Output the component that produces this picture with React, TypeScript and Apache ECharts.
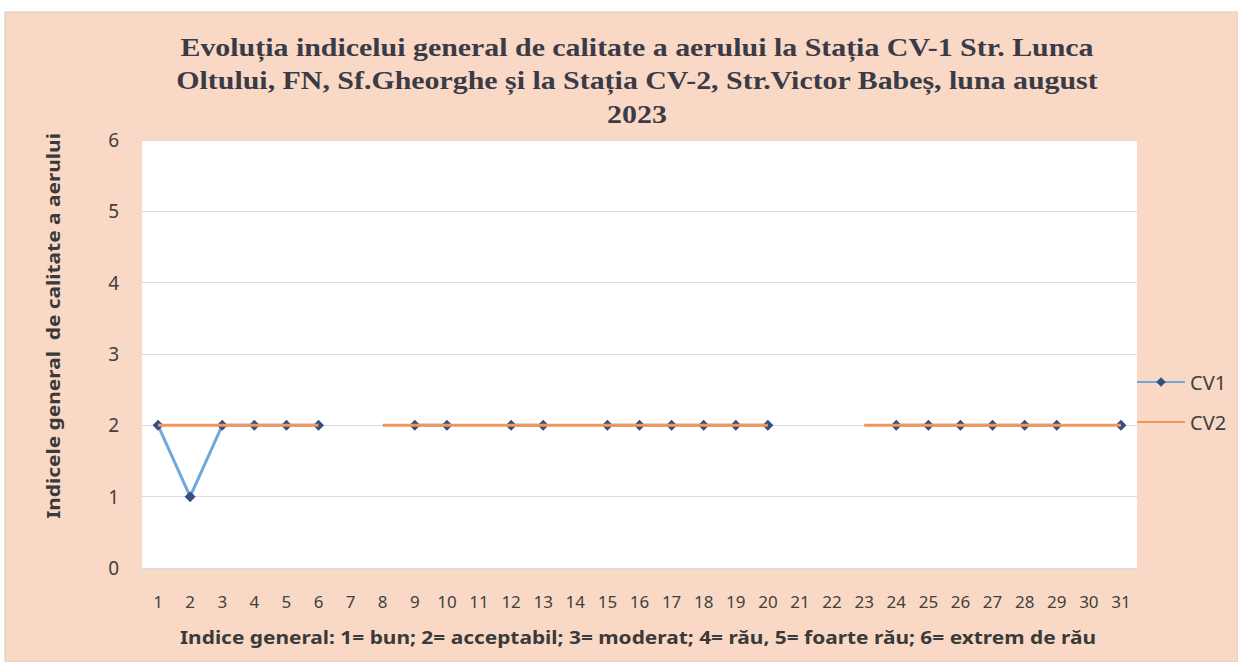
import React, { useEffect, useRef } from "react";
import * as echarts from "echarts";

const days = ["1","2","3","4","5","6","7","8","9","10","11","12","13","14","15","16","17","18","19","20","21","22","23","24","25","26","27","28","29","30","31"];
const cv1: (number | null)[] = [2,1,2,2,2,2,null,null,2,2,null,2,2,null,2,2,2,2,2,2,null,null,null,2,2,2,2,2,2,null,2];
const cv2: (number | null)[] = [2,2,2,2,2,2,null,2,2,2,2,2,2,2,2,2,2,2,2,2,null,null,2,2,2,2,2,2,2,2,2];
const yTicks = [0, 1, 2, 3, 4, 5, 6];

const titleLines = [
  "Evoluția indicelui general de calitate a aerului la Stația CV-1 Str. Lunca",
  "Oltului, FN, Sf.Gheorghe și la Stația CV-2, Str.Victor Babeș, luna august",
  "2023",
];
const yName = "Indicele general  de calitate a aerului";
const xName = "Indice general: 1= bun; 2= acceptabil; 3= moderat; 4= rău, 5= foarte rău; 6= extrem de rău";

export default function App() {
  const ref = useRef<HTMLDivElement>(null);
  useEffect(() => {
    if (!ref.current) return;
    const chart = echarts.init(ref.current, null, { renderer: "svg" });
    const titleGraphics = titleLines.map((t, i) => ({
      type: "text",
      x: 637,
      y: 47 + i * 33.5,
      scaleX: 1.15,
      silent: true,
      style: {
        text: t,
        fontFamily: "Liberation Serif",
        fontWeight: "bold",
        fontSize: 26,
        fill: "#3b3b48",
        align: "center",
        verticalAlign: "middle",
      },
    }));
    chart.setOption({
      animation: false,
      backgroundColor: "#ffffff",
      graphic: [
        { type: "rect", z: -10, silent: true, shape: { x: 5, y: 12, width: 1233, height: 650 }, style: { fill: "#F9D9C5", stroke: "#d8c8c0", lineWidth: 1 } },
        ...titleGraphics,
        {
          type: "text", x: 53, y: 326, rotation: Math.PI / 2, scaleX: 1.16, silent: true,
          style: { text: yName, fontFamily: "Noto Sans", fontWeight: "bold", fontSize: 18, fill: "#3a3a3a", align: "center", verticalAlign: "middle" },
        },
        {
          type: "text", x: 638, y: 637, scaleX: 1.16, silent: true,
          style: { text: xName, fontFamily: "Noto Sans", fontWeight: "bold", fontSize: 18, fill: "#3a3a3a", align: "center", verticalAlign: "middle" },
        },
      ],
      legend: {
        orient: "vertical",
        left: 1131,
        top: 367,
        itemWidth: 48,
        itemHeight: 12,
        itemGap: 20,
        textStyle: { fontFamily: "Noto Sans", fontSize: 20, color: "#404040" },
        data: ["CV1", { name: "CV2", itemStyle: { opacity: 0 } }],
      },
      grid: { left: 142, right: 101, top: 140, bottom: 94, show: true, backgroundColor: "#ffffff", borderWidth: 0 },
      xAxis: {
        type: "category",
        data: days,
        boundaryGap: true,
        axisLine: { show: false },
        axisTick: { show: false },
        axisLabel: { fontFamily: "Noto Sans", fontSize: 17, color: "#404040", margin: 25, interval: 0 },
      },
      yAxis: {
        type: "value",
        min: yTicks[0],
        max: yTicks[yTicks.length - 1],
        interval: 1,
        axisLine: { show: false },
        axisTick: { show: false },
        axisLabel: { fontFamily: "Noto Sans", fontSize: 19, color: "#404040", margin: 23 },
        splitLine: { lineStyle: { color: "#d9d9e6", width: 1 } },
      },
      series: [
        {
          name: "CV1",
          type: "line",
          data: cv1,
          connectNulls: false,
          symbol: "diamond",
          symbolSize: 11,
          lineStyle: { color: "#6FA8DC", width: 3 },
          itemStyle: { color: "#34507f" },
          color: "#6FA8DC",
          z: 2,
        },
        {
          name: "CV2",
          type: "line",
          data: cv2,
          connectNulls: false,
          symbol: "none",
          showSymbol: false,
          lineStyle: { color: "#F5955A", width: 3 },
          itemStyle: { color: "#F5955A" },
          color: "#F5955A",
          z: 3,
        },
      ],
    });
    return () => chart.dispose();
  }, []);
  return <div ref={ref} style={{ position: "absolute", left: 0, top: 0, width: 1238, height: 662 }} />;
}
